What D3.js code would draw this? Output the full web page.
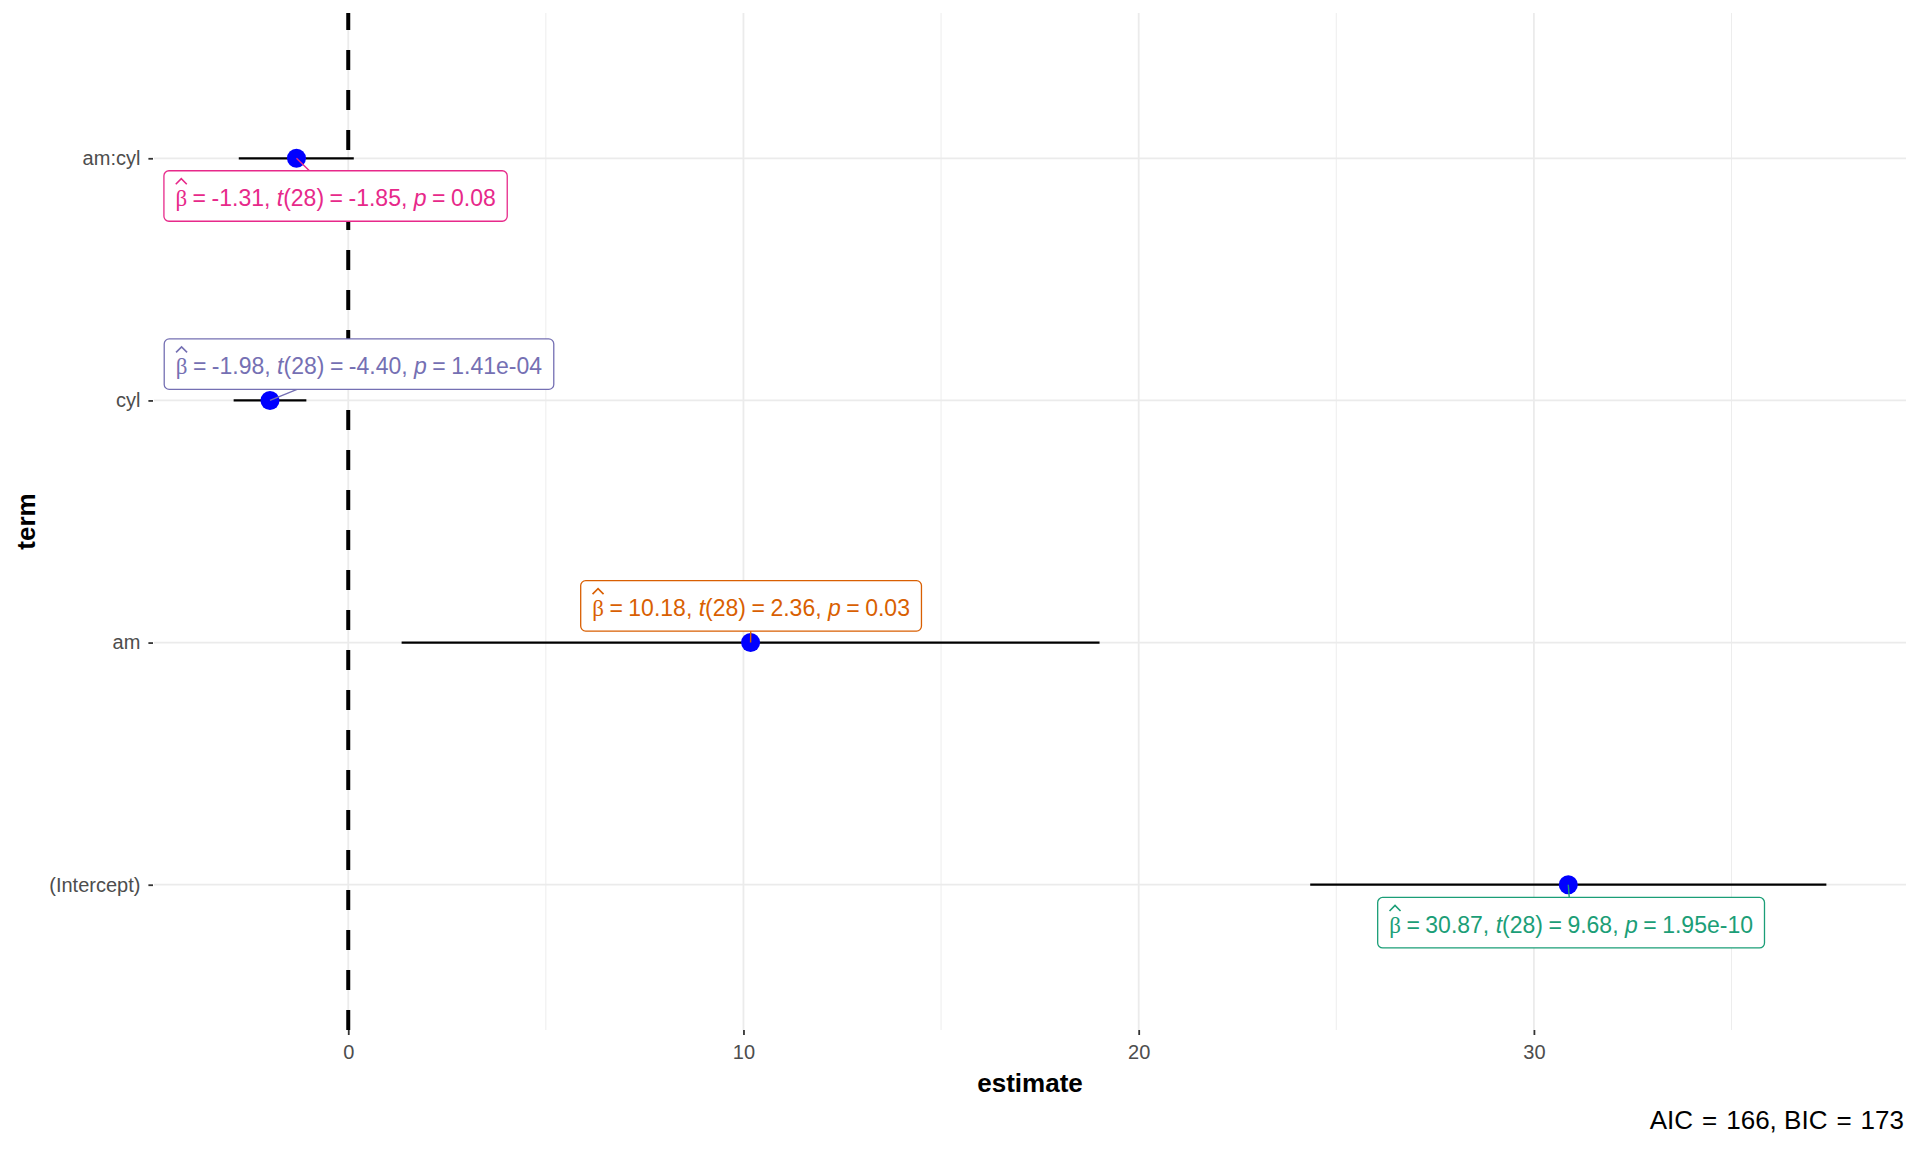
<!DOCTYPE html>
<html>
<head>
<meta charset="utf-8">
<script src="https://cdn.jsdelivr.net/npm/d3@7"></script>
<style>
  body { margin: 0; background: #ffffff; }
  text { font-family: "Liberation Sans", Arial, sans-serif; }
</style>
</head>
<body>
<div id="chart"></div>
<script>
// regression terms, bottom to top
const terms = ["(Intercept)", "am", "cyl", "am:cyl"];
const estimates = [30.87, 10.18, -1.98, -1.31];
const confLow = [24.34, 1.35, -2.90, -2.77];
const confHigh = [37.40, 19.01, -1.06, 0.14];
const tStats = [9.68, 2.36, -4.40, -1.85];
const pValues = [1.95e-10, 0.03, 1.41e-4, 0.08];
const dfResidual = 28;
const xTicks = [0, 10, 20, 30];
const xMinorTicks = [5, 15, 25, 35];
const fitNames = ["AIC", "BIC"];
const fitValues = [166, 173];

// label look + where ggrepel put the boxes (offset of box centre from point, px)
const labelColors = ["#1B9E77", "#D95F02", "#7570B3", "#E7298A"];
const labelOffsets = [[2.8, 38], [0.5, -36.7], [89, -36.3], [39.1, 37.7]];

const W = 1920, H = 1152;
const panel = { left: 154, right: 1906, top: 13, bottom: 1030 };

const svg = d3.select("#chart")
  .append("svg")
  .attr("width", W)
  .attr("height", H);

// x scale with ggplot-style 5% expansion
const lo = d3.min(confLow), hi = d3.max(confHigh);
const pad = (hi - lo) * 0.05;
const x = d3.scaleLinear()
  .domain([lo - pad, hi + pad])
  .range([panel.left, panel.right]);

const y = d3.scalePoint()
  .domain(terms.slice().reverse())
  .range([panel.top, panel.bottom])
  .padding(0.6);

// grid
const grid = svg.append("g");
grid.selectAll("line.minor")
  .data(xMinorTicks.filter(d => x(d) >= panel.left && x(d) <= panel.right))
  .enter().append("line")
  .attr("x1", d => x(d)).attr("x2", d => x(d))
  .attr("y1", panel.top).attr("y2", panel.bottom)
  .attr("stroke", "#EBEBEB").attr("stroke-width", 0.9);
grid.selectAll("line.majx")
  .data(xTicks)
  .enter().append("line")
  .attr("x1", d => x(d)).attr("x2", d => x(d))
  .attr("y1", panel.top).attr("y2", panel.bottom)
  .attr("stroke", "#EBEBEB").attr("stroke-width", 1.8);
grid.selectAll("line.majy")
  .data(terms)
  .enter().append("line")
  .attr("x1", panel.left).attr("x2", panel.right)
  .attr("y1", d => y(d)).attr("y2", d => y(d))
  .attr("stroke", "#EBEBEB").attr("stroke-width", 1.8);

// reference line at zero, dashes counted from the bottom like ggplot
svg.append("line")
  .attr("x1", x(0)).attr("x2", x(0))
  .attr("y1", panel.bottom).attr("y2", panel.top)
  .attr("stroke", "#000000")
  .attr("stroke-width", 4)
  .attr("stroke-dasharray", "20,20");

// axes
const yAxis = svg.append("g")
  .attr("transform", `translate(${panel.left - 1},0)`)
  .call(d3.axisLeft(y).tickSize(4.6).tickPadding(8));
const xAxis = svg.append("g")
  .attr("transform", `translate(0,${panel.bottom})`)
  .call(d3.axisBottom(x).tickValues(xTicks).tickSize(5).tickPadding(10).tickFormat(d3.format("d")));
[yAxis, xAxis].forEach(a => {
  a.select(".domain").remove();
  a.selectAll(".tick line").attr("stroke", "#333333").attr("stroke-width", 1.8);
  a.selectAll(".tick text")
    .attr("fill", "#4D4D4D")
    .style("font-size", "20px")
    .style("font-family", "'Liberation Sans', Arial, sans-serif");
});

svg.append("text")
  .attr("x", (panel.left + panel.right) / 2)
  .attr("y", 1092)
  .attr("text-anchor", "middle")
  .style("font-size", "26px")
  .style("font-weight", "700")
  .text("estimate");

svg.append("text")
  .attr("transform", `translate(35,${(panel.top + panel.bottom) / 2}) rotate(-90)`)
  .attr("text-anchor", "middle")
  .style("font-size", "26px")
  .style("font-weight", "700")
  .text("term");

// error bars and points
const rows = terms.map((t, i) => ({
  term: t, est: estimates[i], low: confLow[i], high: confHigh[i],
  stat: tStats[i], p: pValues[i], color: labelColors[i], off: labelOffsets[i]
}));

svg.selectAll("line.ci")
  .data(rows)
  .enter().append("line")
  .attr("x1", d => x(d.low)).attr("x2", d => x(d.high))
  .attr("y1", d => y(d.term)).attr("y2", d => y(d.term))
  .attr("stroke", "#000000").attr("stroke-width", 2.3);

svg.selectAll("circle.pt")
  .data(rows)
  .enter().append("circle")
  .attr("cx", d => x(d.est)).attr("cy", d => y(d.term))
  .attr("r", 9.5)
  .attr("fill", "#0000FF");

function fmtP(p) {
  if (p < 0.001) {
    const [m, e] = p.toExponential(2).split("e");
    const digits = e.replace(/[+-]/, "").padStart(2, "0");
    return `${m}e${e[0] === "-" ? "-" : ""}${digits}`;
  }
  return p.toFixed(2);
}

// labels (ggrepel-like boxes)
const gap = 5.5;
const padX = 11.5;
const labels = svg.append("g");
rows.forEach(d => {
  const px = x(d.est), py = y(d.term);
  const cx = px + d.off[0], cy = py + d.off[1];
  const boxH = 50.5;

  const g = labels.append("g");
  const seg = g.append("line");
  const rect = g.append("rect");
  const txt = g.append("text")
    .attr("x", 0).attr("y", 0)
    .attr("fill", d.color)
    .style("font-size", "23px");

  txt.append("tspan").style("font-family", "'Liberation Serif', serif").text("β");
  txt.append("tspan").attr("dx", gap).text("=");
  txt.append("tspan").attr("dx", gap).text(d.est.toFixed(2) + ", ");
  txt.append("tspan").style("font-style", "italic").text("t");
  txt.append("tspan").text(`(${dfResidual})`);
  txt.append("tspan").attr("dx", gap).text("=");
  txt.append("tspan").attr("dx", gap).text(d.stat.toFixed(2) + ", ");
  txt.append("tspan").style("font-style", "italic").text("p");
  txt.append("tspan").attr("dx", gap).text("=");
  txt.append("tspan").attr("dx", gap).text(fmtP(d.p));

  const bb = txt.node().getBBox();
  const tw = bb.x + bb.width;
  const boxW = tw + 2 * padX;
  const bx = cx - boxW / 2, by = cy - boxH / 2;
  const base = by + 35.5;
  txt.attr("x", bx + padX).attr("y", base);

  rect.attr("x", bx).attr("y", by)
    .attr("width", boxW).attr("height", boxH)
    .attr("rx", 5).attr("ry", 5)
    .attr("fill", "#ffffff")
    .attr("stroke", d.color)
    .attr("stroke-width", 1.3);

  // hat over beta
  const bw = txt.node().getSubStringLength(0, 1);
  const hx = bx + padX + bw / 2;
  g.append("path")
    .attr("d", `M${hx - 5.5},${base - 22} L${hx},${base - 27.5} L${hx + 5.5},${base - 22}`)
    .attr("fill", "none")
    .attr("stroke", d.color)
    .attr("stroke-width", 1.6);

  // segment from the point to the box edge along the line to the box centre
  const dx = cx - px, dy = cy - py;
  let t = 1;
  if (Math.abs(dy) > 0) t = Math.min(t, (Math.abs(dy) - boxH / 2) / Math.abs(dy));
  if (Math.abs(dx) > boxW / 2) t = Math.min(t, (Math.abs(dx) - boxW / 2) / Math.abs(dx));
  seg.attr("x1", px).attr("y1", py)
    .attr("x2", px + dx * Math.max(t, 0)).attr("y2", py + dy * Math.max(t, 0))
    .attr("stroke", d.color)
    .attr("stroke-width", 1.4);
});

// model fit caption
const cap = svg.append("text")
  .attr("x", 1904)
  .attr("y", 1129)
  .attr("text-anchor", "end")
  .attr("fill", "#000000")
  .style("font-size", "26px");
fitNames.forEach((n, i) => {
  cap.append("tspan").text((i ? " " : "") + n);
  cap.append("tspan").attr("dx", 9).text("=");
  cap.append("tspan").attr("dx", 9).text(fitValues[i] + (i < fitNames.length - 1 ? "," : ""));
});
</script>
</body>
</html>
